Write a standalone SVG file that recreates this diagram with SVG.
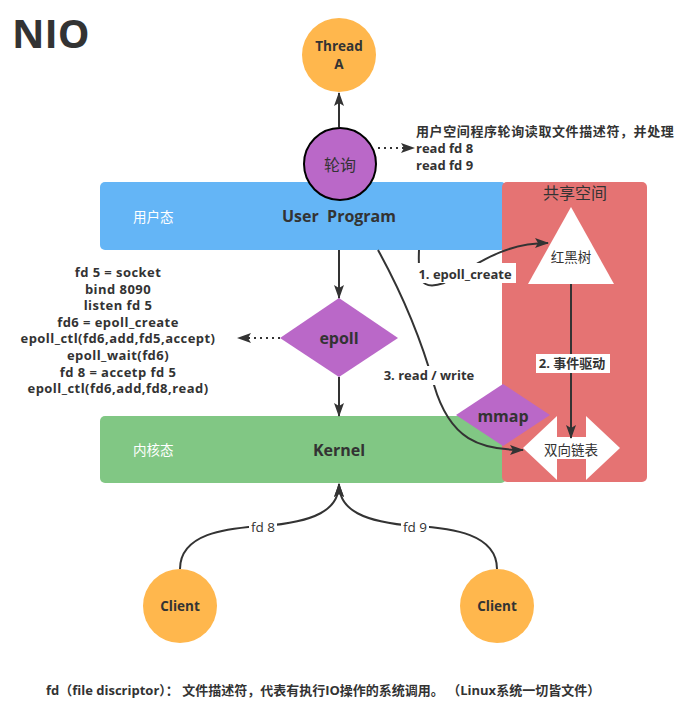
<svg xmlns="http://www.w3.org/2000/svg" width="685" height="712" viewBox="0 0 685 712">
<defs>
<style>
text{font-family:"Open Sans","Noto Sans CJK SC",sans-serif;fill:#333;}
.b{font-weight:bold;}
.c{text-anchor:middle;}
.w{fill:#fff;}
.ln{fill:none;stroke:#333;stroke-width:2;}
.dot{fill:none;stroke:#333;stroke-width:2;stroke-dasharray:2 4;}
</style>
<marker id="ah" viewBox="0 0 14 10" refX="13" refY="5" markerWidth="14" markerHeight="10" orient="auto" markerUnits="userSpaceOnUse">
<path d="M0,0 L14,5 L0,10 L3,5 Z" fill="#333"/>
</marker>
</defs>
<rect width="685" height="712" fill="#fff"/>
<text x="12" y="48" class="b" font-size="40">NIO</text>

<g id="user-program">
<rect x="100" y="182" width="406" height="68" rx="5" fill="#64B5F6"/>
<text x="133" y="222" class="w" font-size="13.5">用户态</text>
<text x="339" y="222" class="b c" font-size="16" xml:space="preserve">User  Program</text>
</g>
<g id="kernel">
<rect x="100" y="416" width="406" height="67" rx="5" fill="#81C784"/>
<text x="133" y="455" class="w" font-size="13.5">内核态</text>
<text x="339" y="456" class="b c" font-size="16">Kernel</text>
</g>
<g id="shared-space">
<rect x="502" y="182" width="145" height="300" rx="5" fill="#E57373"/>
<text x="575" y="199" class="c" font-size="16">共享空间</text>
</g>

<g id="thread-a">
<circle cx="339" cy="55" r="37" fill="#FFB74D"/>
<text x="339" y="51" class="b c" font-size="13.5">Thread</text>
<text x="339" y="69" class="b c" font-size="13.5">A</text>
</g>
<g id="polling">
<circle cx="340" cy="164" r="36" fill="#BA68C8" stroke="#000" stroke-width="2"/>
<text x="340" y="171" class="c" font-size="16">轮询</text>
</g>
<g id="polling-note" font-size="13">
<text x="416" y="136" class="b" letter-spacing="0.6">用户空间程序轮询读取文件描述符，并处理</text>
<text x="416" y="153" class="b">read fd 8</text>
<text x="416" y="170" class="b">read fd 9</text>
</g>
<g id="epoll">
<polygon points="339,298 398,338 339,377 280,338" fill="#BA68C8"/>
<text x="339" y="344" class="b c" font-size="16">epoll</text>
</g>
<g id="epoll-note" font-size="13" letter-spacing="0.45">
<text x="118" y="277" class="b c">fd 5 = socket</text>
<text x="118" y="293.6" class="b c">bind 8090</text>
<text x="118" y="310.2" class="b c">listen fd 5</text>
<text x="118" y="326.8" class="b c">fd6 = epoll_create</text>
<text x="118" y="343.4" class="b c">epoll_ctl(fd6,add,fd5,accept)</text>
<text x="118" y="360" class="b c">epoll_wait(fd6)</text>
<text x="118" y="376.6" class="b c">fd 8 = accetp fd 5</text>
<text x="118" y="393.2" class="b c">epoll_ctl(fd6,add,fd8,read)</text>
</g>
<g id="rb-tree">
<polygon points="571,207 614,284 528,284" fill="#fff"/>
<text x="571" y="262" class="c" font-size="13.5">红黑树</text>
</g>
<g id="mmap">
<polygon points="503,384 550,415 503,446 456,415" fill="#BA68C8"/>
<text x="503" y="422" class="b c" font-size="16">mmap</text>
</g>
<g id="linked-list">
<polygon points="523,448 557,416 557,437 586,437 586,416 620,448 586,480 586,459 557,459 557,480" fill="#fff"/>
<text x="571" y="455" class="c" font-size="13.5">双向链表</text>
</g>
<g id="client-1">
<circle cx="180" cy="606" r="37" fill="#FFB74D"/>
<text x="180" y="611" class="b c" font-size="13.5">Client</text>
</g>
<g id="client-2">
<circle cx="497" cy="606" r="37" fill="#FFB74D"/>
<text x="497" y="611" class="b c" font-size="13.5">Client</text>
</g>

<g id="connectors">
<line x1="339" y1="127" x2="339" y2="93" class="ln" marker-end="url(#ah)"/>
<line x1="378" y1="148" x2="414" y2="148" class="dot" marker-end="url(#ah)"/>
<line x1="339" y1="250" x2="339" y2="298" class="ln" marker-end="url(#ah)"/>
<line x1="280" y1="338" x2="238" y2="338" class="dot" marker-end="url(#ah)"/>
<line x1="339" y1="377" x2="339" y2="416" class="ln" marker-end="url(#ah)"/>
<line x1="571" y1="284" x2="571" y2="438" class="ln" marker-end="url(#ah)"/>
<path d="M419 250 C418 276 418 292 444 283 C480 262 505 243 548 243" class="ln" marker-end="url(#ah)"/>
<path d="M378 250 C400 290 420 335 434 385 C450 440 480 450 523 450" class="ln" marker-end="url(#ah)"/>
<path d="M180 569 C180 534 225 528 263 526 C315 522 339 510 339 484" class="ln" marker-end="url(#ah)"/>
<path d="M497 569 C497 534 452 528 415 526 C363 522 339 510 339 484" class="ln" marker-end="url(#ah)"/>
<rect x="414" y="263" width="102" height="20" fill="#fff"/>
<text x="465" y="279" class="b c" font-size="13">1. epoll_create</text>
<rect x="381" y="366" width="97" height="19" fill="#fff"/>
<text x="429" y="380" class="b c" font-size="13">3. read / write</text>
<rect x="536" y="354" width="74" height="19" fill="#fff"/>
<text x="572" y="368" class="b c" font-size="13">2. 事件驱动</text>
<rect x="249" y="518" width="28" height="18" fill="#fff"/>
<text x="263" y="532" class="c" font-size="13.5">fd 8</text>
<rect x="401" y="518" width="28" height="18" fill="#fff"/>
<text x="415" y="532" class="c" font-size="13.5">fd 9</text>
</g>

<text x="46" y="695" class="b" font-size="13" xml:space="preserve">fd（file discriptor）： 文件描述符，代表有执行IO操作的系统调用。 （Linux系统一切皆文件）</text>
</svg>
